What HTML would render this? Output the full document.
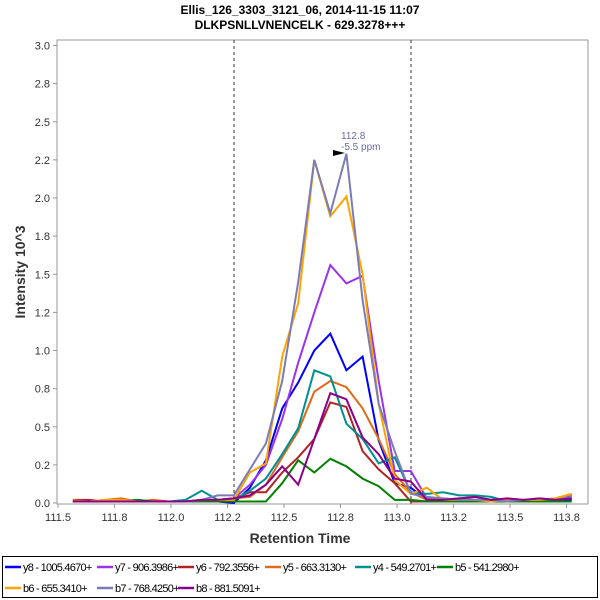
<!DOCTYPE html>
<html><head><meta charset="utf-8"><style>
body{margin:0;background:#fff;font-family:"Liberation Sans",sans-serif;}
svg{display:block}
</style></head><body>
<svg id="chart" width="600" height="600" viewBox="0 0 600 600">
<text x="300" y="14" text-anchor="middle" font-size="12" font-weight="bold">Ellis_126_3303_3121_06, 2014-11-15 11:07</text>
<text x="300" y="29" text-anchor="middle" font-size="12" font-weight="bold">DLKPSNLLVNENCELK - 629.3278+++</text>
<rect x="57" y="40" width="531" height="464" fill="#fff" stroke="#999"/>
<g id="xticks"></g>
<g id="yticks"></g>
<text x="300" y="543" text-anchor="middle" font-size="14" font-weight="bold" fill="#333">Retention Time</text>
<text transform="translate(25,272) rotate(-90)" text-anchor="middle" font-size="14" font-weight="bold" fill="#333">Intensity 10^3</text>
<line x1="234" y1="40" x2="234" y2="504" stroke="#333" stroke-dasharray="3,3"/>
<line x1="411" y1="40" x2="411" y2="504" stroke="#333" stroke-dasharray="3,3"/>
<g id="series"></g>
<text x="341" y="139" font-size="10" fill="#6a6aaa">112.8</text>
<text x="341" y="150" font-size="10" fill="#6a6aaa">-5.5 ppm</text>
<polygon points="333,150 345,153 333,156" fill="#000"/>
<rect x="2.5" y="556.5" width="595" height="41" fill="#fff" stroke="#000"/>
<g id="legend"></g>
</svg>
<script>
const times=[111.566,111.637,111.708,111.780,111.851,111.922,111.993,112.064,112.136,112.207,112.278,112.349,112.420,112.492,112.563,112.634,112.705,112.776,112.848,112.919,112.990,113.061,113.132,113.204,113.275,113.346,113.417,113.488,113.560,113.631,113.702,113.773];
const y8=[0.01,0.01,0.01,0.02,0.01,0.01,0.01,0.01,0.01,0.01,0.0,0.10,0.28,0.62,0.79,1.00,1.11,0.87,0.96,0.41,0.13,0.10,0.02,0.02,0.02,0.01,0.02,0.02,0.01,0.01,0.01,0.02];
const y7=[0.01,0.01,0.01,0.02,0.01,0.01,0.01,0.01,0.02,0.02,0.03,0.12,0.25,0.55,0.92,1.25,1.56,1.44,1.49,0.80,0.21,0.21,0.03,0.02,0.03,0.02,0.02,0.02,0.01,0.02,0.01,0.05];
const y6=[0.02,0.02,0.01,0.02,0.01,0.01,0.01,0.01,0.01,0.02,0.03,0.07,0.07,0.20,0.30,0.42,0.66,0.63,0.34,0.22,0.13,0.01,0.01,0.01,0.01,0.01,0.01,0.01,0.01,0.01,0.02,0.03];
const y5=[0.02,0.01,0.02,0.03,0.01,0.02,0.01,0.01,0.01,0.02,0.03,0.04,0.12,0.30,0.47,0.73,0.80,0.76,0.62,0.42,0.19,0.07,0.02,0.03,0.02,0.02,0.01,0.03,0.02,0.02,0.03,0.06];
const y4=[0.01,0.01,0.01,0.01,0.02,0.01,0.01,0.02,0.08,0.02,0.02,0.08,0.16,0.32,0.49,0.87,0.83,0.52,0.42,0.26,0.30,0.07,0.06,0.07,0.05,0.05,0.04,0.01,0.02,0.02,0.02,0.03];
const b5=[0.01,0.01,0.01,0.01,0.02,0.01,0.01,0.01,0.01,0.01,0.01,0.01,0.01,0.13,0.28,0.20,0.29,0.24,0.16,0.11,0.02,0.02,0.01,0.01,0.01,0.01,0.01,0.01,0.01,0.01,0.01,0.01];
const b6=[0.01,0.01,0.02,0.02,0.01,0.01,0.01,0.01,0.02,0.02,0.02,0.20,0.26,0.96,1.31,2.25,1.88,2.01,1.50,0.65,0.15,0.06,0.10,0.02,0.02,0.02,0.01,0.02,0.02,0.02,0.03,0.06];
const b7=[0.01,0.01,0.01,0.01,0.01,0.01,0.01,0.01,0.02,0.05,0.05,0.22,0.39,0.80,1.45,2.25,1.90,2.29,1.33,0.65,0.34,0.06,0.04,0.03,0.02,0.02,0.02,0.01,0.02,0.03,0.02,0.04];
const b8=[0.01,0.01,0.01,0.01,0.01,0.01,0.01,0.01,0.02,0.02,0.03,0.05,0.12,0.24,0.12,0.42,0.72,0.68,0.43,0.32,0.16,0.14,0.02,0.02,0.03,0.04,0.02,0.03,0.02,0.03,0.02,0.03];
const seriesNames=["y8 - 1005.4670+","y7 - 906.3986+","y6 - 792.3556+","y5 - 663.3130+","y4 - 549.2701+","b5 - 541.2980+","b6 - 655.3410+","b7 - 768.4250+","b8 - 881.5091+"];
const seriesValues=[y8,y7,y6,y5,y4,b5,b6,b7,b8];
const seriesColors=["#0000ff","#9933ee","#b22222","#e06a1a","#009090","#008000","#ffa500","#7b7bb8","#8b008b"];
const xTickValues=[111.5,111.75,112.0,112.25,112.5,112.75,113.0,113.25,113.5,113.75];
const xTickLabels=["111.5","111.8","112.0","112.2","112.5","112.8","113.0","113.2","113.5","113.8"];
const yTickValues=[0,0.25,0.5,0.75,1,1.25,1.5,1.75,2,2.25,2.5,2.75,3];
const yTickLabels=["0.0","0.2","0.5","0.8","1.0","1.2","1.5","1.8","2.0","2.2","2.5","2.8","3.0"];
const NS="http://www.w3.org/2000/svg";
function xs(v){return 58+(v-111.5)*226;}
function ys(v){return 503-v*152.5;}
function mk(tag,attrs,parent){const e=document.createElementNS(NS,tag);for(const k in attrs)e.setAttribute(k,attrs[k]);parent.appendChild(e);return e;}
const xg=document.getElementById('xticks');
xTickValues.forEach((v,i)=>{
  const l=mk('line',{x1:xs(v),x2:xs(v),y1:504,y2:508,stroke:'#999'},xg);
  
  
  const t=mk('text',{x:xs(v),y:521,'text-anchor':'middle','font-size':11,fill:'#333'},xg);
  t.textContent=xTickLabels[i];
  
  
});
const yg=document.getElementById('yticks');
yTickValues.forEach((v,i)=>{
  const l=mk('line',{x1:53,x2:57,y1:ys(v),y2:ys(v),stroke:'#999'},yg);
  
  
  const t=mk('text',{x:50,y:ys(v)+4,'text-anchor':'end','font-size':11,fill:'#333'},yg);
  t.textContent=yTickLabels[i];
  
  
});
const sg=document.getElementById('series');
seriesValues.forEach((vals,s)=>{
  const pts=vals.map((v,i)=>xs(times[i]).toFixed(1)+','+ys(v).toFixed(1)).join(' ');
  const p=mk('polyline',{points:pts,fill:'none',stroke:seriesColors[s],'stroke-width':2,'stroke-linejoin':'miter'},sg);
  
  
});
const lg=document.getElementById('legend');
const legendX=[5,97,178,265,355,437,5,97,178];
seriesNames.forEach((n,s)=>{
  const row=s<6?0:1;
  const y=row?588:567;
  const g=mk('g',{},lg);
  
  
  mk('line',{x1:legendX[s],x2:legendX[s]+16,y1:y,y2:y,stroke:seriesColors[s],'stroke-width':2.5},g);
  const t=mk('text',{x:legendX[s]+18,y:y+4,'font-size':11,fill:'#000','letter-spacing':'-0.75'},g);
  t.textContent=n;
});
</script>
</body></html>
